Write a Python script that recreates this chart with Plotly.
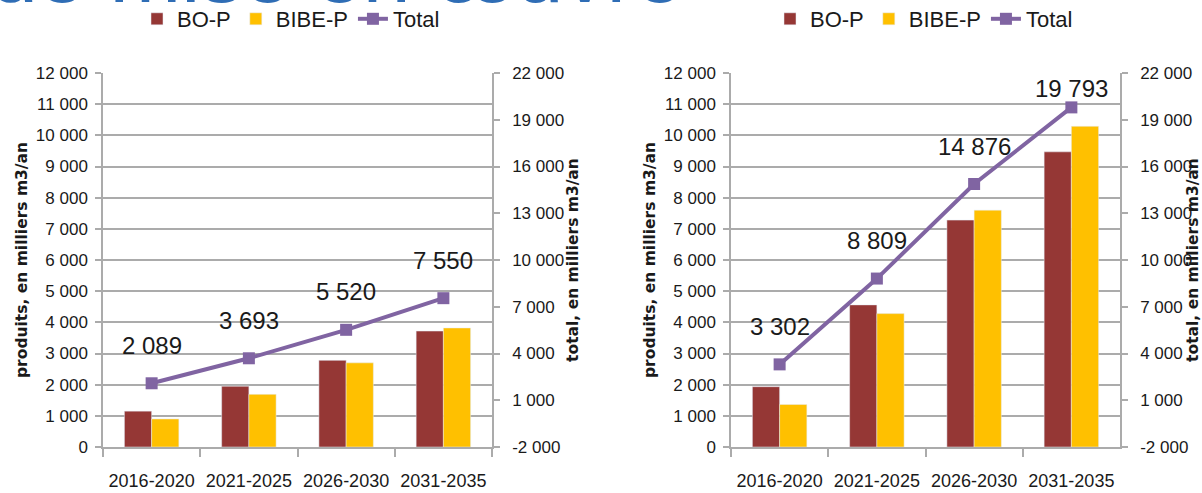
import plotly.graph_objects as go
from plotly.subplots import make_subplots

# ---------------- data ----------------
categories = ["2016-2020", "2021-2025", "2026-2030", "2031-2035"]

left_bo_p = [1150, 1950, 2780, 3720]
left_bibe_p = [900, 1690, 2700, 3820]
left_total = [2089, 3693, 5520, 7550]

right_bo_p = [1935, 4560, 7280, 9470]
right_bibe_p = [1365, 4280, 7600, 10290]
right_total = [3302, 8809, 14876, 19793]

left_ticks = [0, 1000, 2000, 3000, 4000, 5000, 6000, 7000, 8000, 9000, 10000, 11000, 12000]
right_ticks = [-2000, 1000, 4000, 7000, 10000, 13000, 16000, 19000, 22000]

series_names = ["BO-P", "BIBE-P", "Total"]
left_title = "produits, en milliers m3/an"
right_title = "total, en milliers m3/an"
slide_title = "de mise en œuvre"

# ---------------- style ----------------
W, H = 1202, 493
RED = "#953735"
YELLOW = "#FFC000"
PURPLE = "#8064A2"
GRID = "#ababab"
TXT = "#1a1a1a"
SANS = "Liberation Sans, Arial, sans-serif"
BOLD = "DejaVu Sans, Verdana, sans-serif"


def fmt(v):
    return f"{v:,}".replace(",", " ")


fig = make_subplots(rows=1, cols=2, specs=[[{"secondary_y": True}, {"secondary_y": True}]])

panels = [
    (1, left_bo_p, left_bibe_p, left_total, "legend"),
    (2, right_bo_p, right_bibe_p, right_total, "legend2"),
]
for col, bo, bibe, tot, leg in panels:
    fig.add_trace(go.Bar(x=categories, y=bo, name=series_names[0], marker_color=RED,
                         legend=leg), row=1, col=col, secondary_y=False)
    fig.add_trace(go.Bar(x=categories, y=bibe, name=series_names[1], marker_color=YELLOW,
                         legend=leg), row=1, col=col, secondary_y=False)
    fig.add_trace(go.Scatter(x=categories, y=tot, name=series_names[2], mode="lines+markers",
                             line=dict(color=PURPLE, width=4),
                             marker=dict(symbol="square", size=12, color=PURPLE),
                             legend=leg), row=1, col=col, secondary_y=True)

# plot-area geometry (pixels)
top_px, bot_px = 73, 447
x_domains = [(103, 492), (731, 1120)]
ydom = [(H - bot_px) / H, (H - top_px) / H]

y_range = [0, 12000]
y2_range = [right_ticks[0], right_ticks[-1]]

axis_common = dict(showline=True, linecolor=GRID, linewidth=1.5, ticks="outside",
                   tickcolor=GRID, tickwidth=1.5, automargin=False)
ytickfont = dict(family=SANS, size=17, color=TXT)

for i, (xa, xb) in enumerate(x_domains):
    sfx = "" if i == 0 else "2"
    yp = "" if i == 0 else "3"
    ys = "2" if i == 0 else "4"
    fig.layout["xaxis" + sfx].update(
        domain=[xa / W, xb / W], type="category", tickson="boundaries", ticklen=8,
        tickangle=0, ticklabelstandoff=17, tickfont=dict(family=SANS, size=18, color=TXT),
        **axis_common)
    fig.layout["yaxis" + yp].update(
        domain=ydom, range=y_range, tickvals=left_ticks, ticktext=[fmt(v) for v in left_ticks],
        showgrid=True, gridcolor=GRID, gridwidth=1.5, ticklen=6, ticklabelstandoff=4,
        tickfont=ytickfont,
        title=dict(text="<b>" + left_title + "</b>", font=dict(family=BOLD, size=15.5, color=TXT),
                   standoff=4),
        zeroline=False, **axis_common)
    fig.layout["yaxis" + ys].update(
        domain=ydom, range=y2_range, tickvals=right_ticks, ticktext=[fmt(v) for v in right_ticks],
        showgrid=False, ticklen=6, ticklabelstandoff=9, side="right", tickfont=ytickfont,
        title=dict(text="<b>" + right_title + "</b>", font=dict(family=BOLD, size=15.5, color=TXT),
                   standoff=4),
        zeroline=False, **axis_common)

# data labels for the Total line
plot_h = bot_px - top_px
for i, tot in enumerate([left_total, right_total]):
    xr = "x" if i == 0 else "x2"
    yr = "y2" if i == 0 else "y4"
    for c, v in zip(categories, tot):
        px_from_top = (y2_range[1] - v) / (y2_range[1] - y2_range[0]) * plot_h
        shift = min(38, px_from_top - 16)
        fig.add_annotation(x=c, y=v, xref=xr, yref=yr, text=fmt(v), showarrow=False,
                           yanchor="middle", yshift=shift,
                           font=dict(family=SANS, size=24, color=TXT))

# cropped slide title at the very top (only the bottom of its letters is in view)
fig.add_annotation(x=-0.01, y=(H - 22) / H, xref="paper", yref="paper", xanchor="left",
                   yanchor="bottom", text=slide_title, showarrow=False,
                   font=dict(family="Liberation Sans, Arial, sans-serif", size=86, color="#2F6DB5"))

legend_common = dict(orientation="h", xref="container", yref="container",
                     yanchor="middle", y=(H - 19) / H, xanchor="left",
                     font=dict(family=SANS, size=22, color=TXT), bgcolor="rgba(0,0,0,0)",
                     itemwidth=30, traceorder="normal", tracegroupgap=0)
fig.update_layout(
    width=W, height=H, margin=dict(l=0, r=0, t=0, b=0, autoexpand=False),
    paper_bgcolor="white", plot_bgcolor="white",
    barmode="group", bargap=0.44, bargroupgap=0,
    legend=dict(x=137 / W, **legend_common),
    legend2=dict(x=770 / W, **legend_common),
)

fig.write_html("out.html", config={"displayModeBar": False},
               post_script="document.body.style.margin='0px';")
